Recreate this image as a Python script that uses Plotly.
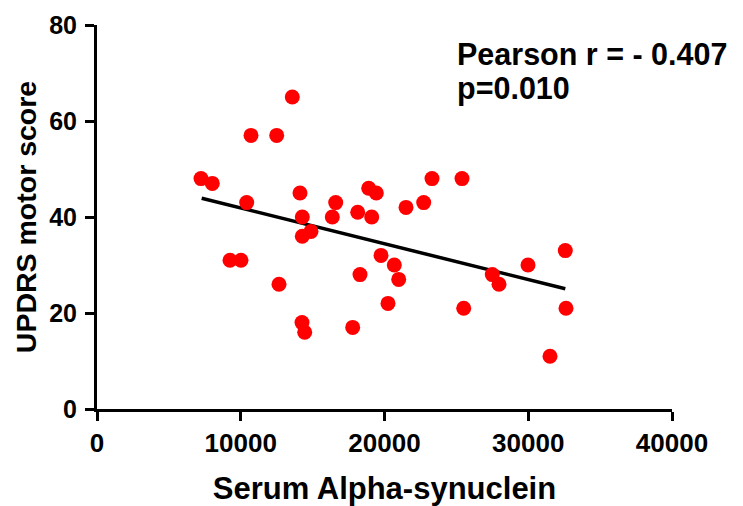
import plotly.graph_objects as go

# Data
alpha_syn = [7235, 8021, 9252, 10017, 10414, 10713, 12501, 12661, 13586, 14122,
             14282, 14282, 14261, 14449, 14887, 16369, 16606, 17788, 18136, 18296,
             18901, 19110, 19430, 19757, 20243, 20682, 20988, 21496, 22727, 23304,
             25391, 25510, 27499, 27965, 29983, 31513, 32577, 32626]
updrs = [48, 47, 31, 31, 43, 57, 57, 26, 65, 45,
         40, 36, 18, 16, 37, 40, 43, 17, 41, 28,
         46, 40, 45, 32, 22, 30, 27, 42, 43, 48,
         48, 21, 28, 26, 30, 11, 33, 21]

# Regression line endpoints
fit_x = [7283, 32577]
fit_y = [43.9, 25.06]

x_ticks = [0, 10000, 20000, 30000, 40000]
y_ticks = [0, 20, 40, 60, 80]

FONT = "Liberation Sans, Arial, sans-serif"

fig = go.Figure()
fig.add_trace(go.Scatter(x=fit_x, y=fit_y, mode="lines",
                         line=dict(color="black", width=3.5), showlegend=False,
                         hoverinfo="skip"))
fig.add_trace(go.Scatter(x=alpha_syn, y=updrs, mode="markers",
                         marker=dict(color="#FF0000", size=15, line=dict(width=0)),
                         showlegend=False))

axis_common = dict(showline=True, linecolor="black", linewidth=3,
                   ticks="outside", ticklen=9, tickwidth=3, tickcolor="black",
                   showgrid=False, zeroline=False, automargin=False)

fig.update_xaxes(range=[0, 40000], tickvals=x_ticks,
                 ticktext=[str(v) for v in x_ticks],
                 tickfont=dict(family=FONT, size=26, color="black", weight="bold"),
                 title=dict(text="Serum Alpha-synuclein", standoff=22,
                            font=dict(family=FONT, size=31, color="black", weight="bold")),
                 **axis_common)
fig.update_yaxes(range=[0, 80], tickvals=y_ticks,
                 ticktext=[str(v) for v in y_ticks],
                 ticklabelstandoff=3,
                 tickfont=dict(family=FONT, size=25, color="black", weight="bold"),
                 title=dict(text="UPDRS motor score", standoff=5,
                            font=dict(family=FONT, size=28.5, color="black", weight="bold")),
                 **axis_common)

fig.add_annotation(x=0.623, y=0.925, xref="paper", yref="paper",
                   text="Pearson r = - 0.407", showarrow=False,
                   xanchor="left", yanchor="middle",
                   font=dict(family=FONT, size=30.5, color="black", weight="bold"))
fig.add_annotation(x=0.623, y=0.835, xref="paper", yref="paper",
                   text="p=0.010", showarrow=False,
                   xanchor="left", yanchor="middle",
                   font=dict(family=FONT, size=30.5, color="black", weight="bold"))

# The page body adds an 8 px offset, so the figure is sized and margined to compensate
fig.update_layout(width=735, height=498,
                  margin=dict(l=89, r=71, t=17, b=97),
                  plot_bgcolor="white", paper_bgcolor="white")

fig.write_html("out.html")
